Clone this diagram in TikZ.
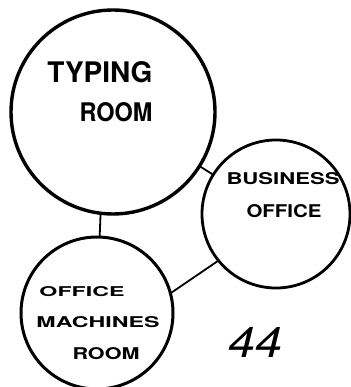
\documentclass[tikz,border=0pt]{standalone}
\usepackage{fontspec}
\usepackage{graphicx}
\setmainfont{TeX Gyre Heros}
\newcommand{\fitlabel}[3]{\resizebox{#1pt}{#2pt}{#3}}
\begin{document}
\begin{tikzpicture}[x=1pt,y=-1pt,
  room/.style={circle,draw=black,inner sep=0pt,outer sep=0pt},
  link/.style={draw=black,line width=1.8pt},
  lbl/.style={inner sep=0pt,outer sep=0pt,font=\fontsize{20}{20}\selectfont\bfseries}]
\useasboundingbox (0,0) rectangle (350,387);
% rooms
\node[room,line width=3.4pt,minimum size=204pt] (tr) at (113,112) {};
\node[room,line width=2.8pt,minimum size=148pt] (bo) at (276,214) {};
\node[room,line width=3pt,minimum size=152pt] (om) at (97,313) {};
% labels
\node[lbl] (t1) at (100,72) {\fitlabel{105}{21}{TYPING}};
\node[lbl] (t2) at (116,112) {\fitlabel{73}{19}{ROOM}};
\node[lbl] (b1) at (283,179) {\fitlabel{113}{12}{BUSINESS}};
\node[lbl] (b2) at (284,211) {\fitlabel{75}{13}{OFFICE}};
\node[lbl] (o1) at (82,292) {\fitlabel{85}{10}{OFFICE}};
\node[lbl] (o2) at (98,322) {\fitlabel{123}{11}{MACHINES}};
\node[lbl] (o3) at (106,354) {\fitlabel{67}{12}{ROOM}};
\node[lbl,font=\fontsize{20}{20}\selectfont] (n44) at (255,342) {\fitlabel{54}{30}{\textit{44}}};
% connectors
\draw[link] (tr) -- (bo);
\draw[link] (tr.-97) -- (om.88);
\draw[link] (bo.219) -- (om.15);
\end{tikzpicture}
\end{document}
